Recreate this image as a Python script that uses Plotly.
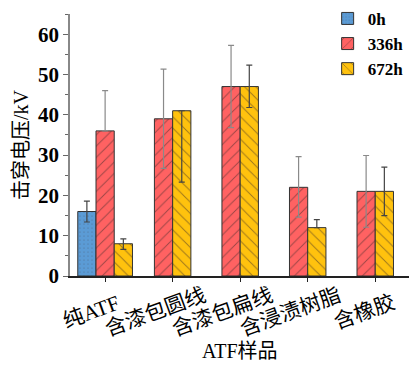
import plotly.graph_objects as go

# Sample categories and series labels
categories = ["纯ATF", "含漆包圆线", "含漆包扁线", "含浸渍树脂", "含橡胶"]
series_names = ["0h", "336h", "672h"]

# Breakdown voltage (kV) per series; None = not measured
v_0h = [16, None, None, None, None]
v_336h = [36, 39, 47, 22, 21]
v_672h = [8, 41, 47, 12, 21]

# Error bar extents (upper / lower), kV
err_up_0h = [2.6, 0, 0, 0, 0]
err_dn_0h = [2.6, 0, 0, 0, 0]
err_up_336h = [10, 12.3, 10.2, 7.6, 8.9]
err_dn_336h = [0, 12.3, 10.2, 7.4, 8.9]
err_up_672h = [1.2, 0, 5.3, 2.0, 6.0]
err_dn_672h = [1.4, 17.7, 5.2, 0, 6.0]

values = [v_0h, v_336h, v_672h]
errs_up = [err_up_0h, err_up_336h, err_up_672h]
errs_dn = [err_dn_0h, err_dn_336h, err_dn_672h]

fills = ["#5B9BD5", "#FF6262", "#FFC20E"]
hatches = [".", "/", "\\"]
err_colors = ["#444444", "#8a8a8a", "#444444"]

BAR_W = 0.27
FONT = "Liberation Serif, Noto Sans CJK SC, serif"

# centre the bars that exist within each category group
n_present = [sum(1 for s in values if s[i] is not None) for i in range(len(categories))]
offsets = []
for j, s in enumerate(values):
    offs = []
    for i in range(len(categories)):
        rank = sum(1 for k in range(j) if values[k][i] is not None)
        offs.append(-n_present[i] * BAR_W / 2 + rank * BAR_W)
    offsets.append(offs)

fig = go.Figure()
for j, name in enumerate(series_names):
    fig.add_trace(go.Bar(
        name=name,
        x=categories,
        y=values[j],
        width=BAR_W,
        offset=offsets[j],
        marker=dict(
            color=fills[j],
            line=dict(color="#333333", width=1),
            pattern=dict(shape=hatches[j], fgcolor="#3a2a2a",
                         size=8 if j else 4, solidity=0.12 if j else 0.05),
        ),
        error_y=dict(type="data", symmetric=False, array=errs_up[j],
                     arrayminus=errs_dn[j], color=err_colors[j],
                     thickness=1.2, width=3),
    ))

# slanted category labels, centred a little left of each tick
annotations = []
for cat in categories:
    annotations.append(dict(
        x=cat, y=0, xref="x", yref="paper", text=cat, showarrow=False,
        textangle=-20, xanchor="center", yanchor="middle",
        xshift=-3.5 * len(cat), yshift=-36,
        font=dict(size=21, family=FONT, color="black"),
    ))
annotations.append(dict(
    x=0.5, y=0, xref="paper", yref="paper", text="ATF样品", showarrow=False,
    xanchor="center", yanchor="middle", yshift=-75,
    font=dict(size=20, family=FONT, color="black"),
))

fig.update_layout(
    width=410, height=366,
    margin=dict(l=70, r=1, t=10, b=90),
    barmode="overlay",
    plot_bgcolor="white", paper_bgcolor="white",
    font=dict(family=FONT, color="black"),
    showlegend=True,
    legend=dict(x=0.76, y=1.05, xanchor="left", yanchor="top",
                font=dict(size=17, family=FONT, weight="bold"),
                bgcolor="rgba(0,0,0,0)", tracegroupgap=0, itemwidth=30),
    annotations=annotations,
)
fig.update_xaxes(
    range=[-0.52, 4.5],
    showline=True, linecolor="#222", linewidth=1.5,
    ticks="outside", ticklen=4, tickcolor="#222",
    showticklabels=False,
)
fig.update_yaxes(
    range=[0, 65],
    showline=True, linecolor="#888", linewidth=1.5,
    ticks="outside", ticklen=5, tickcolor="#666",
    dtick=10, showgrid=False, zeroline=False,
    minor=dict(dtick=5, ticks="outside", ticklen=3, tickcolor="#666"),
    tickfont=dict(size=21, family=FONT, weight="bold"),
    title=dict(text="击穿电压/kV", font=dict(size=20, family=FONT), standoff=4),
)

fig.write_html("out.html")
